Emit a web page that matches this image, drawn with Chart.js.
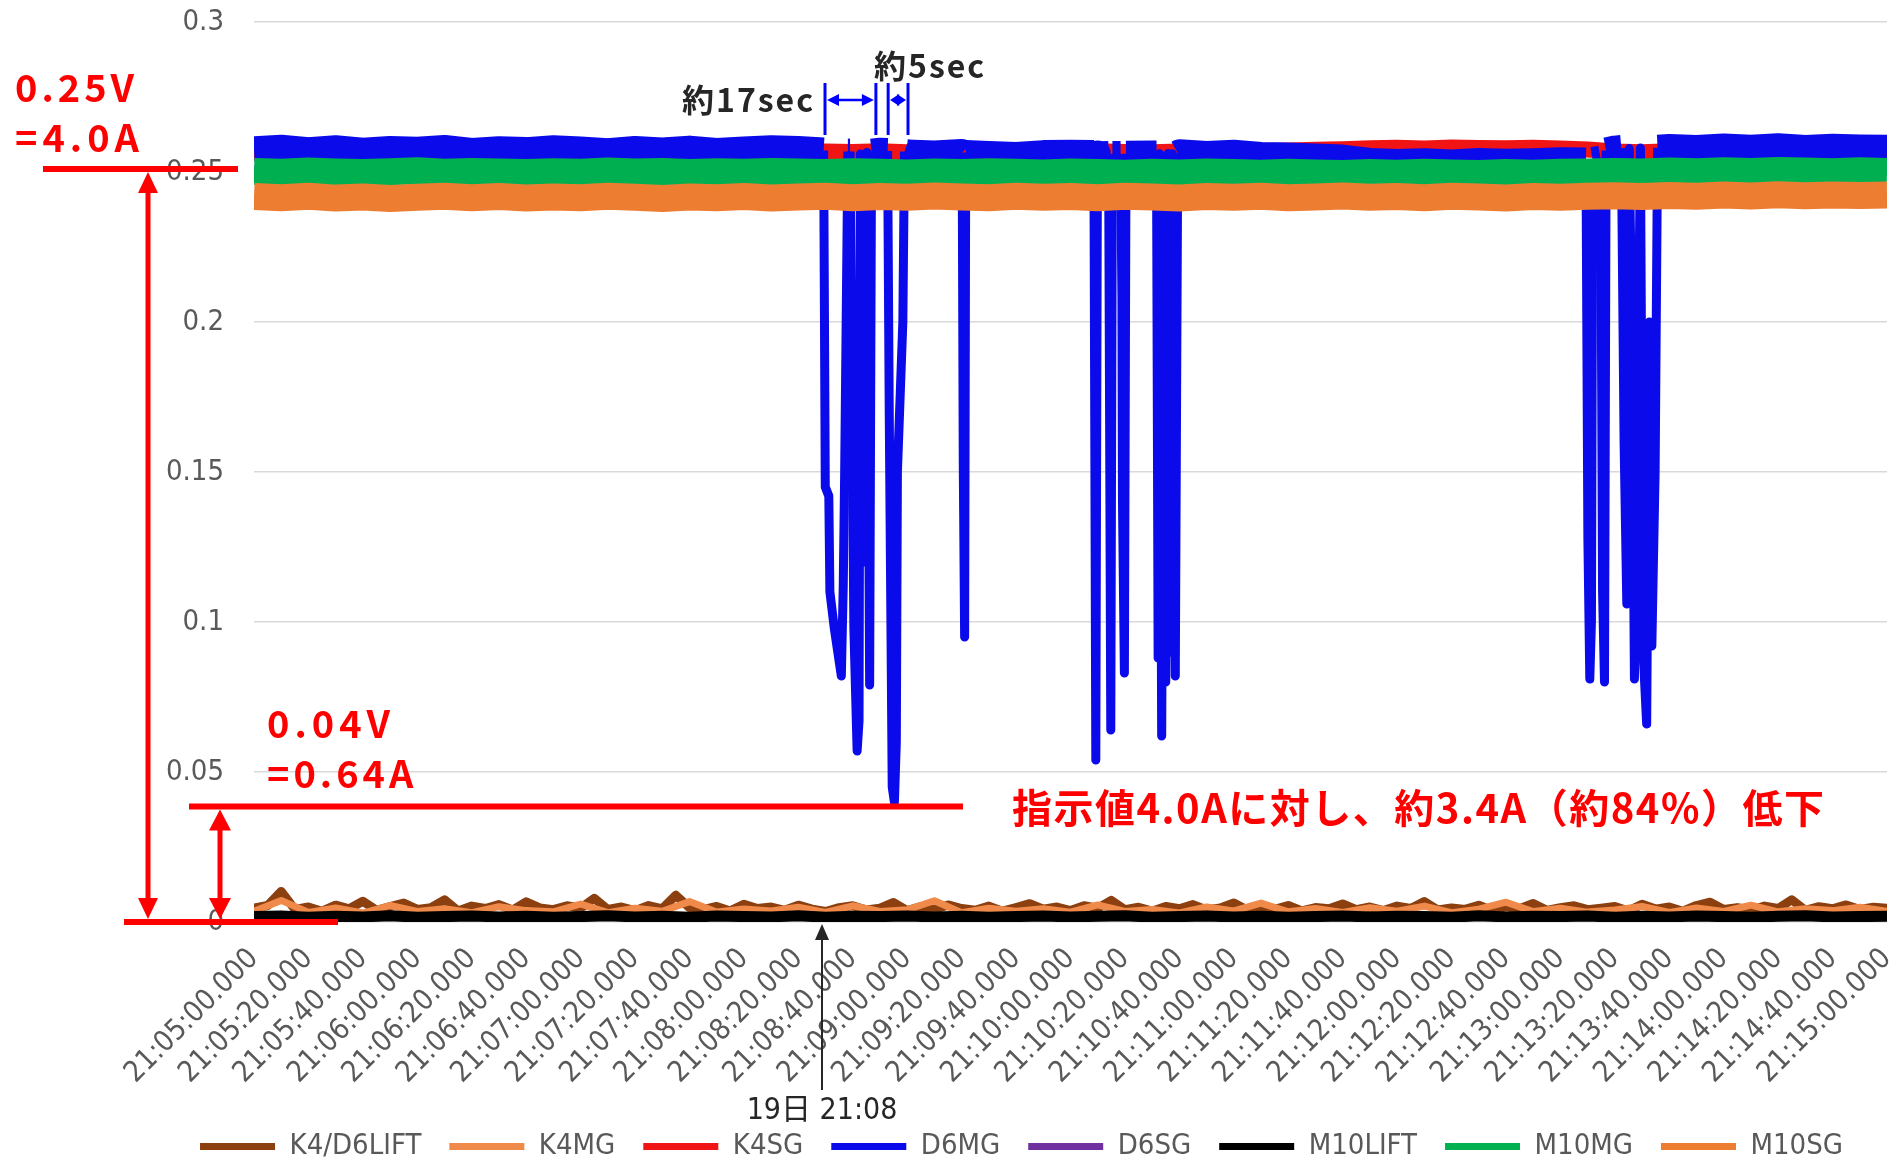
<!DOCTYPE html>
<html>
<head>
<meta charset="utf-8">
<script src="https://cdn.jsdelivr.net/npm/chart.js@4.4.1/dist/chart.umd.min.js"></script>
<style>
  html, body { margin: 0; padding: 0; background: #fff; }
  #wrap { width: 1899px; height: 1162px; }
</style>
</head>
<body>
<div id="wrap"><canvas id="c" width="1899" height="1162"></canvas></div>
<script>
// Magnet current log 21:05 - 21:15 (values in V, 0.25V = 4.0A)

const TIME_LABELS = [
  '21:05:00.000', '21:05:20.000', '21:05:40.000', '21:06:00.000', '21:06:20.000', '21:06:40.000',
  '21:07:00.000', '21:07:20.000', '21:07:40.000', '21:08:00.000', '21:08:20.000', '21:08:40.000',
  '21:09:00.000', '21:09:20.000', '21:09:40.000', '21:10:00.000', '21:10:20.000', '21:10:40.000',
  '21:11:00.000', '21:11:20.000', '21:11:40.000', '21:12:00.000', '21:12:20.000', '21:12:40.000',
  '21:13:00.000', '21:13:20.000', '21:13:40.000', '21:14:00.000', '21:14:20.000', '21:14:40.000',
  '21:15:00.000'
];

const SERIES_NAMES = ['K4/D6LIFT', 'K4MG', 'K4SG', 'D6MG', 'D6SG', 'M10LIFT', 'M10MG', 'M10SG'];
const SERIES_COLORS = ['#8C3F0F', '#EF8A4A', '#F01414', '#0A0AEB', '#7030A0', '#000000', '#00B050', '#ED7D31'];

// samples every 5 s
const K4D6LIFT = [
  0.0046, 0.0055, 0.0102, 0.0042, 0.0050, 0.0036, 0.0056, 0.0044, 0.0069, 0.0039,
  0.0051, 0.0063, 0.0042, 0.0048, 0.0074, 0.0037, 0.0053, 0.0045, 0.0058, 0.0040,
  0.0067, 0.0047, 0.0041, 0.0054, 0.0046, 0.0079, 0.0042, 0.0050, 0.0038, 0.0055,
  0.0044, 0.0089, 0.0048, 0.0041, 0.0052, 0.0037, 0.0059, 0.0045, 0.0050, 0.0039,
  0.0056, 0.0043, 0.0035, 0.0048, 0.0054, 0.0040, 0.0046, 0.0065, 0.0038, 0.0051,
  0.0042, 0.0057, 0.0045, 0.0039, 0.0053, 0.0036, 0.0048, 0.0061, 0.0043, 0.0050,
  0.0038, 0.0054, 0.0046, 0.0072, 0.0041, 0.0049, 0.0036, 0.0052, 0.0044, 0.0058,
  0.0040, 0.0047, 0.0063, 0.0039, 0.0051, 0.0042, 0.0055, 0.0037, 0.0048, 0.0044,
  0.0060, 0.0041, 0.0050, 0.0038, 0.0053, 0.0045, 0.0068, 0.0040, 0.0047, 0.0042,
  0.0056, 0.0038, 0.0051, 0.0044, 0.0062, 0.0039, 0.0048, 0.0054, 0.0041, 0.0046,
  0.0052, 0.0037, 0.0059, 0.0043, 0.0050, 0.0036, 0.0055, 0.0066, 0.0042, 0.0048,
  0.0040, 0.0053, 0.0045, 0.0074, 0.0039, 0.0051, 0.0044, 0.0057, 0.0042, 0.0049, 0.0046
];

// the rest: samples every 10 s
const K4MG = [
  0.0036, 0.0072, 0.0032, 0.0047, 0.0030, 0.0055, 0.0035, 0.0044, 0.0031, 0.0051,
  0.0038, 0.0034, 0.0060, 0.0031, 0.0046, 0.0036, 0.0068, 0.0033, 0.0043, 0.0037,
  0.0049, 0.0032, 0.0054, 0.0035, 0.0041, 0.0071, 0.0031, 0.0046, 0.0036, 0.0044,
  0.0033, 0.0057, 0.0035, 0.0042, 0.0030, 0.0050, 0.0037, 0.0063, 0.0034, 0.0045,
  0.0032, 0.0048, 0.0036, 0.0053, 0.0031, 0.0043, 0.0066, 0.0035, 0.0046, 0.0033,
  0.0040, 0.0052, 0.0032, 0.0047, 0.0035, 0.0056, 0.0034, 0.0044, 0.0038, 0.0049, 0.0036
];

const K4SG = [
  0.2565, 0.2566, 0.2564, 0.2566, 0.2563, 0.2565, 0.2566, 0.2564, 0.2565, 0.2563,
  0.2565, 0.2566, 0.2564, 0.2565, 0.2563, 0.2566, 0.2564, 0.2565, 0.2566, 0.2564,
  0.2566, 0.2568, 0.2567, 0.2569, 0.2566, 0.2565, 0.2566, 0.2568, 0.2570, 0.2569,
  0.2568, 0.2569, 0.2567, 0.2566, 0.2568, 0.2569, 0.2568, 0.2570, 0.2572, 0.2574,
  0.2576, 0.2579, 0.2581, 0.2578, 0.2582, 0.2580, 0.2579, 0.2581, 0.2578, 0.2575,
  0.2568, 0.2566, 0.2569, 0.2567, 0.2568, 0.2566, 0.2569, 0.2567, 0.2568, 0.2566, 0.2567
];

// normal level of D6MG; null where the dips below take over
const D6MG_BAND = [
  0.2576, 0.2581, 0.2573, 0.2579, 0.2571, 0.2577, 0.2574, 0.2580, 0.2570, 0.2576,
  0.2573, 0.2579, 0.2575, 0.2569, 0.2577, 0.2572, 0.2578, 0.2570, 0.2575, 0.2579,
  0.2577, null, null, 0.2571, 0.2565, 0.2562, 0.2567, 0.2560, 0.2557, 0.2563,
  0.2564, 0.2559, null, 0.2562, 0.2566, 0.2560, 0.2564, 0.2557, 0.2555, 0.2552,
  0.2548, 0.2537, 0.2533, 0.2536, 0.2532, 0.2537, 0.2534, 0.2536, 0.2539, null,
  0.2578, null, 0.2583, 0.2580, 0.2585, 0.2581, 0.2586, 0.2580, 0.2584, 0.2582, 0.2581
];

// D6MG drops: [seconds after 21:05:00, V]
const D6MG_DIPS = [
  [209.3, 0.2572], [209.9, 0.145], [211.2, 0.142], [211.6, 0.110], [213.2, 0.098], [215.8, 0.082],
  [216.5, 0.112], [217.0, 0.148], [218.2, 0.2568],
  [219.0, 0.2568], [220.4, 0.098], [221.6, 0.057], [222.3, 0.067], [222.8, 0.2560],
  [223.4, 0.218], [224.2, 0.214], [224.6, 0.120], [225.2, 0.2565], [226.2, 0.079], [226.9, 0.2568],
  [232.8, 0.2570], [233.4, 0.170], [234.5, 0.045], [235.3, 0.040], [236.0, 0.060], [236.4, 0.150],
  [238.4, 0.200], [239.0, 0.2568],
  [260.2, 0.2565], [260.6, 0.153], [261.1, 0.095], [261.5, 0.2563],
  [308.6, 0.2563], [309.3, 0.054], [309.9, 0.2562],
  [314.0, 0.2560], [314.8, 0.064], [315.4, 0.2560],
  [318.4, 0.2560], [318.9, 0.208], [319.1, 0.140], [319.8, 0.083], [320.4, 0.2561],
  [331.6, 0.2562], [332.2, 0.088], [332.7, 0.2561], [333.5, 0.062], [334.2, 0.200], [335.0, 0.080],
  [335.9, 0.2562], [336.6, 0.090], [337.4, 0.2561], [338.5, 0.082], [339.4, 0.2563],
  [489.4, 0.2538], [490.1, 0.128], [490.8, 0.081], [491.4, 0.100], [491.9, 0.2540],
  [494.8, 0.2545], [495.5, 0.110], [496.2, 0.080], [496.8, 0.2572],
  [502.4, 0.2580], [503.4, 0.160], [504.4, 0.106], [505.3, 0.2578], [506.2, 0.200], [507.2, 0.081],
  [508.2, 0.150], [509.4, 0.2580], [510.4, 0.090], [511.7, 0.066], [512.7, 0.200], [513.6, 0.092],
  [514.8, 0.150], [515.7, 0.2581]
];

const D6SG = [
  0.2506, 0.2503, 0.2507, 0.2504, 0.2502, 0.2506, 0.2503, 0.2507, 0.2505, 0.2502,
  0.2505, 0.2503, 0.2506, 0.2504, 0.2502, 0.2505, 0.2503, 0.2507, 0.2504, 0.2502,
  0.2505, 0.2508, 0.2504, 0.2506, 0.2503, 0.2505, 0.2504, 0.2506, 0.2503, 0.2505,
  0.2504, 0.2506, 0.2503, 0.2505, 0.2504, 0.2506, 0.2503, 0.2505, 0.2504, 0.2506,
  0.2508, 0.2506, 0.2509, 0.2507, 0.2505, 0.2508, 0.2506, 0.2509, 0.2507, 0.2505,
  0.2505, 0.2503, 0.2506, 0.2504, 0.2502, 0.2505, 0.2503, 0.2506, 0.2504, 0.2502, 0.2505
];

const M10LIFT = [
  0.0018, 0.0020, 0.0016, 0.0019, 0.0017, 0.0021, 0.0016, 0.0018, 0.0020, 0.0017,
  0.0019, 0.0016, 0.0018, 0.0021, 0.0017, 0.0019, 0.0016, 0.0020, 0.0018, 0.0017,
  0.0021, 0.0016, 0.0019, 0.0018, 0.0020, 0.0017, 0.0019, 0.0016, 0.0018, 0.0020,
  0.0017, 0.0019, 0.0021, 0.0016, 0.0018, 0.0020, 0.0017, 0.0019, 0.0016, 0.0018,
  0.0020, 0.0017, 0.0019, 0.0018, 0.0016, 0.0021, 0.0017, 0.0019, 0.0018, 0.0020,
  0.0016, 0.0019, 0.0017, 0.0020, 0.0018, 0.0016, 0.0019, 0.0021, 0.0017, 0.0018, 0.0019
];

const M10MG = [
  0.2502, 0.2499, 0.2503, 0.2500, 0.2498, 0.2501, 0.2504, 0.2499, 0.2502, 0.2500,
  0.2498, 0.2501, 0.2499, 0.2503, 0.2500, 0.2502, 0.2498, 0.2501, 0.2499, 0.2502,
  0.2500, 0.2498, 0.2501, 0.2499, 0.2497, 0.2500, 0.2498, 0.2501, 0.2499, 0.2497,
  0.2500, 0.2498, 0.2496, 0.2499, 0.2497, 0.2500, 0.2498, 0.2496, 0.2499, 0.2497,
  0.2495, 0.2498, 0.2496, 0.2499, 0.2497, 0.2495, 0.2498, 0.2496, 0.2499, 0.2500,
  0.2502, 0.2500, 0.2503, 0.2501, 0.2504, 0.2502, 0.2505, 0.2503, 0.2501, 0.2504, 0.2502
];

const M10SG = [
  0.2418, 0.2414, 0.2419, 0.2413, 0.2417, 0.2412, 0.2416, 0.2419, 0.2414, 0.2418,
  0.2413, 0.2417, 0.2414, 0.2419, 0.2416, 0.2412, 0.2417, 0.2414, 0.2418, 0.2413,
  0.2417, 0.2419, 0.2414, 0.2418, 0.2416, 0.2420, 0.2417, 0.2414, 0.2419, 0.2416,
  0.2418, 0.2414, 0.2419, 0.2417, 0.2413, 0.2418, 0.2416, 0.2419, 0.2414, 0.2417,
  0.2420, 0.2416, 0.2418, 0.2414, 0.2419, 0.2417, 0.2413, 0.2418, 0.2416, 0.2419,
  0.2421, 0.2418, 0.2422, 0.2419, 0.2423, 0.2420, 0.2424, 0.2421, 0.2423, 0.2422, 0.2423
];

const AXIS_FONT = '"DejaVu Sans Condensed", "DejaVu Sans", sans-serif';
const JP_FONT = '"Noto Sans CJK JP", sans-serif';

function toPoints(values, step) {
  return values.map((v, i) => ({ x: i * step, y: v })).filter(p => p.y !== null);
}

const d6mgPoints = toPoints(D6MG_BAND, 10)
  .concat(D6MG_DIPS.map(([x, y]) => ({ x, y })))
  .sort((a, b) => a.x - b.x);

function series(i, data, width, extra) {
  return Object.assign({
    label: SERIES_NAMES[i],
    data: data,
    borderColor: SERIES_COLORS[i],
    backgroundColor: SERIES_COLORS[i],
    borderWidth: width,
    borderJoinStyle: 'round',
    pointRadius: 0,
    tension: 0,
    clip: 0,
    order: 8 - i   // later series painted on top, like Excel
  }, extra || {});
}

const datasets = [
  series(0, toPoints(K4D6LIFT, 5), 9),
  series(1, toPoints(K4MG, 10), 7),
  series(2, toPoints(K4SG, 10), 16),
  series(3, d6mgPoints, 26, {
    segment: {
      borderWidth: c => (c.p0.parsed.y < 0.24 || c.p1.parsed.y < 0.24) ? 9 : 26
    }
  }),
  series(4, toPoints(D6SG, 10), 10),
  series(5, toPoints(M10LIFT, 10), 11),
  series(6, toPoints(M10MG, 10), 27),
  series(7, toPoints(M10SG, 10), 27)
];

// --- annotation helpers ---
function arrowHead(ctx, x, y, dx, dy, len, half) {
  const bx = x - dx * len, by = y - dy * len;
  ctx.beginPath();
  ctx.moveTo(x, y);
  ctx.lineTo(bx - dy * half, by + dx * half);
  ctx.lineTo(bx + dy * half, by - dx * half);
  ctx.closePath();
  ctx.fill();
}

function arrow(ctx, x1, y1, x2, y2, color, width, len, half, both) {
  const d = Math.hypot(x2 - x1, y2 - y1), dx = (x2 - x1) / d, dy = (y2 - y1) / d;
  ctx.strokeStyle = color;
  ctx.fillStyle = color;
  ctx.lineWidth = width;
  ctx.beginPath();
  ctx.moveTo(x1 + (both ? dx * len * 0.6 : 0), y1 + (both ? dy * len * 0.6 : 0));
  ctx.lineTo(x2 - dx * len * 0.6, y2 - dy * len * 0.6);
  ctx.stroke();
  arrowHead(ctx, x2, y2, dx, dy, len, half);
  if (both) arrowHead(ctx, x1, y1, -dx, -dy, len, half);
}

function line(ctx, x1, y1, x2, y2, color, width) {
  ctx.strokeStyle = color;
  ctx.lineWidth = width;
  ctx.beginPath();
  ctx.moveTo(x1, y1);
  ctx.lineTo(x2, y2);
  ctx.stroke();
}

function text(ctx, str, x, y, font, color, spacing, align, baseline) {
  ctx.font = font;
  ctx.fillStyle = color;
  ctx.letterSpacing = (spacing || 0) + 'px';
  ctx.textAlign = align || 'left';
  ctx.textBaseline = baseline || 'alphabetic';
  ctx.fillText(str, x, y);
  ctx.letterSpacing = '0px';
}

const annotations = {
  id: 'annotations',
  afterDraw(chart) {
    const { ctx } = chart;
    const x = chart.scales.x, y = chart.scales.y;
    const RED = '#FF0000', BLUE = '#0000FF', DARK = '#262626';
    ctx.save();

    const y25 = y.getPixelForValue(0.251);
    const y04 = y.getPixelForValue(0.0385);
    const y0 = y.getPixelForValue(0);

    // red reference lines and arrows
    line(ctx, 43, y25, 238, y25, RED, 6);
    line(ctx, 124, y0, 338, y0, RED, 6);
    line(ctx, 189, y04, x.getPixelForValue(260.5), y04, RED, 6);
    arrow(ctx, 148, y25 + 3, 148, y0 - 3, RED, 5, 21, 10, true);
    arrow(ctx, 220, y04 + 3, 220, y0 - 3, RED, 5, 21, 11, true);

    text(ctx, '0.25V', 15, 102, 'bold 38px ' + JP_FONT, RED, 4);
    text(ctx, '=4.0A', 15, 152, 'bold 38px ' + JP_FONT, RED, 5);
    text(ctx, '0.04V', 267, 738, 'bold 38px ' + JP_FONT, RED, 5);
    text(ctx, '=0.64A', 267, 788, 'bold 38px ' + JP_FONT, RED, 4);
    text(ctx, '指示値4.0Aに対し、約3.4A（約84%）低下', 1012, 808, 'bold 40px ' + JP_FONT, RED, 1.5, 'left', 'middle');

    // blue brackets for the two gaps
    const gapA = [209.8, 228.5], gapB = [233.0, 240.3];
    [gapA[0], gapA[1], gapB[0], gapB[1]].forEach(t => {
      const px = x.getPixelForValue(t);
      line(ctx, px, 83, px, 135, BLUE, 3);
    });
    arrow(ctx, x.getPixelForValue(gapA[0]) + 2, 100, x.getPixelForValue(gapA[1]) - 2, 100, BLUE, 2.5, 12, 6, true);
    arrow(ctx, x.getPixelForValue(gapB[0]) + 2, 100, x.getPixelForValue(gapB[1]) - 2, 100, BLUE, 2.5, 9, 6, true);
    text(ctx, '約17sec', 682, 100, 'bold 32px ' + JP_FONT, DARK, 2, 'left', 'middle');
    text(ctx, '約5sec', 874, 66, 'bold 32px ' + JP_FONT, DARK, 2, 'left', 'middle');

    // event marker
    const ex = x.getPixelForValue(208.7);
    arrow(ctx, ex, 1090, ex, y0 + 2, DARK, 2, 16, 7, false);
    text(ctx, '19日 21:08', ex, 1111, '30px ' + AXIS_FONT + ', ' + JP_FONT, DARK, 0, 'center', 'middle');

    ctx.restore();
  }
};

const whiteBg = {
  id: 'whiteBg',
  beforeDraw(chart) {
    const { ctx, width, height } = chart;
    ctx.save();
    ctx.fillStyle = '#ffffff';
    ctx.fillRect(0, 0, width, height);
    ctx.restore();
  }
};

new Chart(document.getElementById('c'), {
  type: 'line',
  data: { datasets: datasets },
  plugins: [whiteBg, annotations],
  options: {
    responsive: false,
    animation: false,
    devicePixelRatio: 1,
    layout: { padding: { left: 156, right: 12, top: 22, bottom: -9 } },
    plugins: {
      tooltip: { enabled: false },
      legend: {
        position: 'bottom',
        labels: {
          boxWidth: 75,
          boxHeight: 7,
          padding: 28,
          color: '#595959',
          font: { family: AXIS_FONT, size: 29 },
          generateLabels: chart => Chart.defaults.plugins.legend.labels.generateLabels(chart)
            .map(l => Object.assign(l, { fillStyle: l.strokeStyle, lineWidth: 0 }))
            .sort((a, b) => a.datasetIndex - b.datasetIndex)
        }
      }
    },
    scales: {
      x: {
        type: 'linear',
        min: 0,
        max: 600,
        grid: { display: false },
        border: { display: false },
        afterBuildTicks: s => { s.ticks = TIME_LABELS.map((_, i) => ({ value: i * 20 })); },
        afterFit: s => { s.height = 182; s.paddingLeft = 0; s.paddingRight = 0; },
        ticks: {
          autoSkip: false,
          minRotation: 45,
          maxRotation: 45,
          padding: 12,
          color: '#595959',
          font: { family: AXIS_FONT, size: 29 },
          callback: (v, i) => TIME_LABELS[i]
        }
      },
      y: {
        min: 0,
        max: 0.3,
        afterFit: s => { s.width = 98; s.paddingTop = 0; s.paddingBottom = 0; },
        grid: { color: '#D9D9D9', lineWidth: 1.5, drawTicks: false },
        border: { display: false },
        ticks: {
          stepSize: 0.05,
          padding: 30,
          color: '#595959',
          font: { family: AXIS_FONT, size: 29 },
          callback: v => String(Math.round(v * 100) / 100)
        }
      }
    }
  }
});
</script>
</body>
</html>
